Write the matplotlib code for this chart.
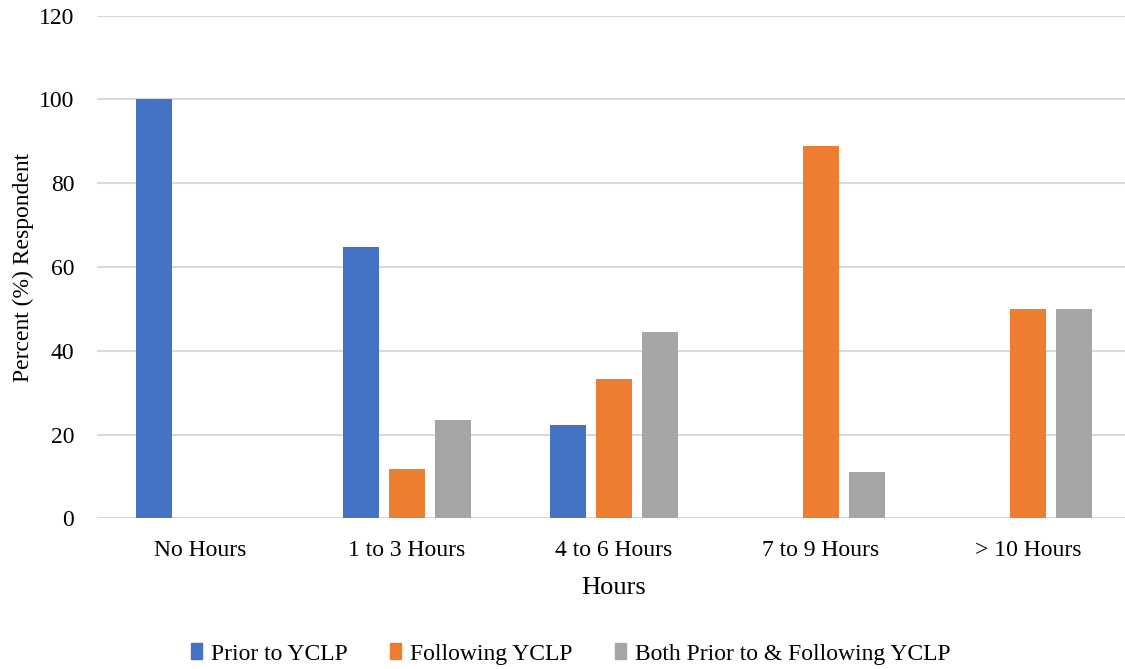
import matplotlib
matplotlib.use("Agg")
import matplotlib.pyplot as plt
import numpy as np
from matplotlib.patches import Patch

plt.rcParams["font.family"] = ["Liberation Serif", "DejaVu Serif"]

categories = ["No Hours", "1 to 3 Hours", "4 to 6 Hours", "7 to 9 Hours", "> 10 Hours"]
series_names = ["Prior to YCLP", "Following YCLP", "Both Prior to & Following YCLP"]
prior = [100.0, 64.7, 22.2, 0.0, 0.0]
following = [0.0, 11.8, 33.3, 88.9, 50.0]
both = [0.0, 23.5, 44.4, 11.1, 50.0]
colors = ["#4472C4", "#ED7D31", "#A5A5A5"]
y_ticks = [0, 20, 40, 60, 80, 100, 120]

fig = plt.figure(figsize=(11.25, 6.69), dpi=100)
ax = fig.add_axes([0.0858, 0.2253, 0.92, 0.7513])

x = np.arange(len(categories))
width = 0.174
step = 0.22
for i, (vals, color) in enumerate(zip([prior, following, both], colors)):
    ax.bar(x + (i - 1) * step, vals, width=width, color=color, zorder=3)

ax.set_xlim(-0.5, len(categories) - 0.5)
ax.set_ylim(0, 120)
ax.set_yticks(y_ticks)
ax.set_xticks(x)
ax.set_xticklabels(categories)
ax.tick_params(axis="both", length=0, labelsize=17)
ax.tick_params(axis="x", pad=16)
ax.tick_params(axis="y", pad=16)
ax.grid(axis="y", color="#d9d9d9", linewidth=1.5, zorder=0)
for spine in ax.spines.values():
    spine.set_visible(False)

ax.set_xlabel("Hours", fontsize=19, labelpad=11)
ax.set_ylabel("Percent (%) Respondent", fontsize=17, labelpad=3.5)

handles = [Patch(color=c, label=n) for c, n in zip(colors, series_names)]
fig.legend(handles=handles, loc="center", bbox_to_anchor=(571 / 1125, 1 - 654 / 669),
           ncol=3, frameon=False, fontsize=17, handlelength=0.45, handleheight=0.65,
           handletextpad=0.4, columnspacing=1.8)

fig.savefig("out.png", dpi=100)
